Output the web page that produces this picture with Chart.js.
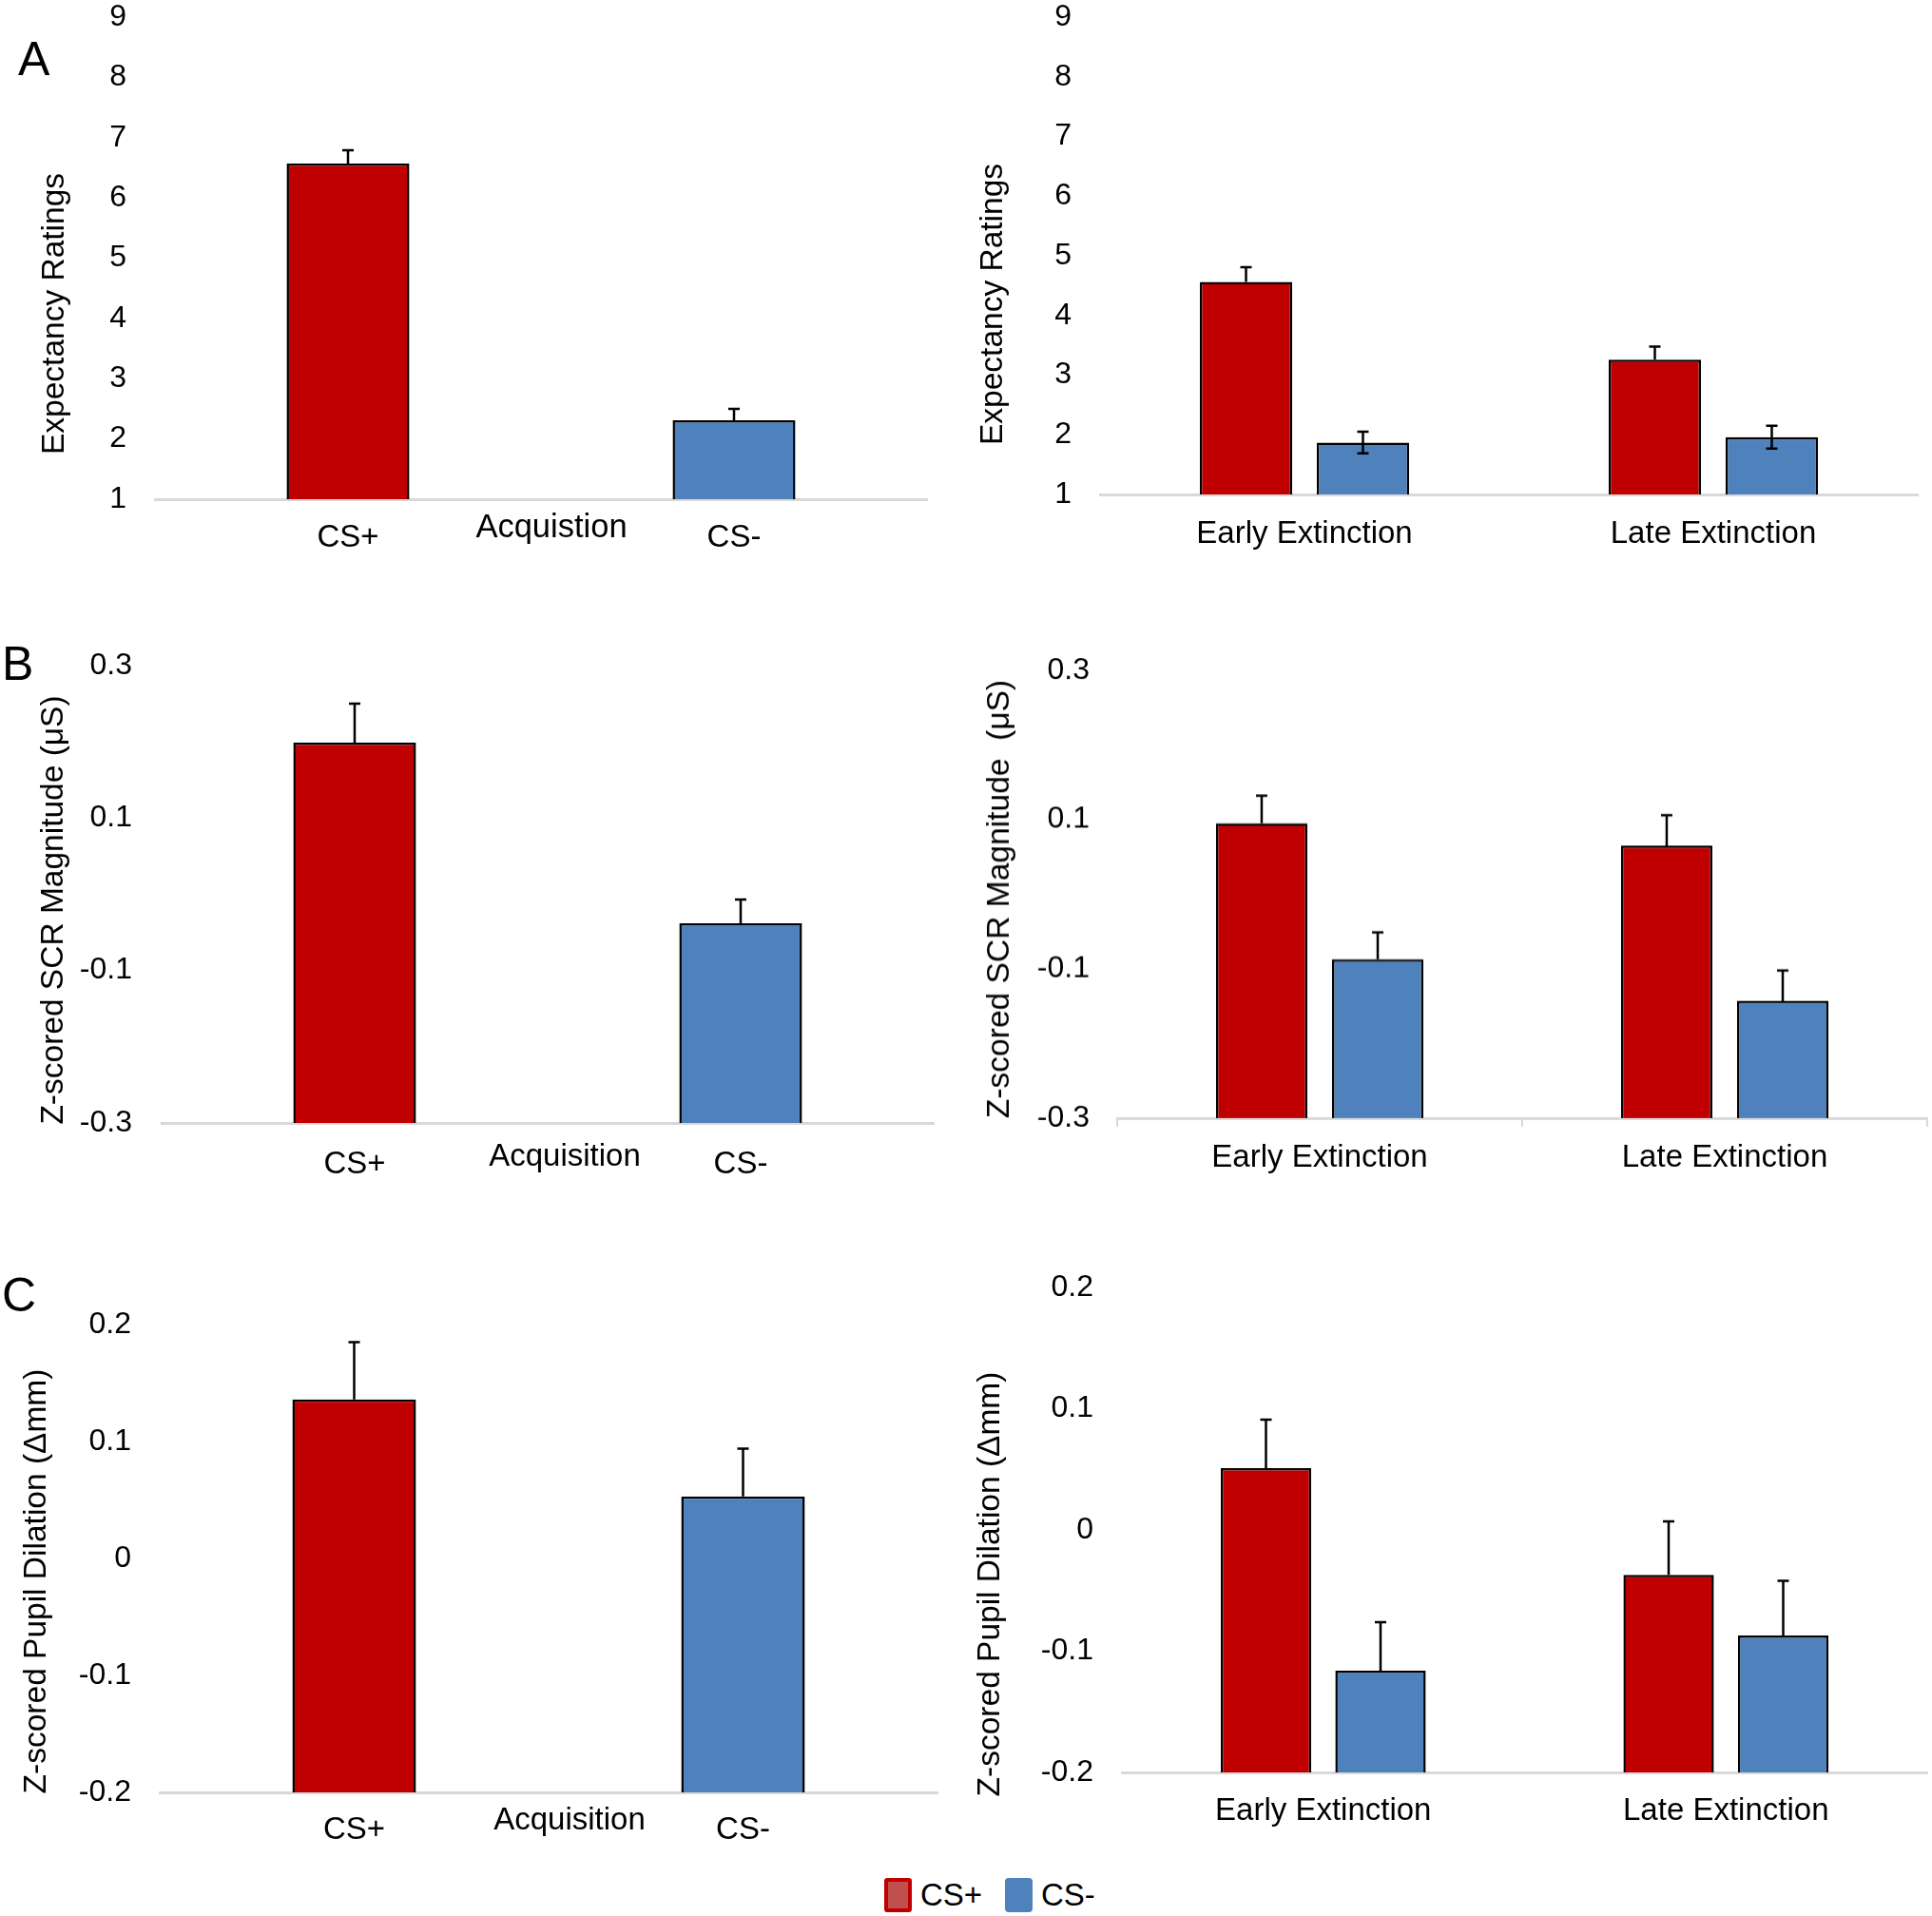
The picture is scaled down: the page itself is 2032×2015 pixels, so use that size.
<!DOCTYPE html>
<html>
<head>
    <meta charset="UTF-8">
    <title>Expectancy, SCR and Pupil Dilation</title>
    <script src="https://cdn.jsdelivr.net/npm/chart.js"></script>
    <style>
        html, body { margin: 0; padding: 0; background: #fff; overflow: hidden; }
        body { width: 2032px; height: 2015px; position: relative; color: #000;
               font-family: "Liberation Sans", Arial, sans-serif; }
        .box { position: absolute; }
        .letter { position: absolute; font-size: 50px; line-height: 50px; }
        .sw { position: absolute; box-sizing: border-box; width: 29px; height: 36px; }
        .lg { position: absolute; font-size: 33px; line-height: 40px; white-space: nowrap; }
    </style>
</head>

<body>
    <div class="letter" style="left:19px; top:37px;">A</div>
    <div class="letter" style="left:2px; top:673px;">B</div>
    <div class="letter" style="left:2px; top:1337px;">C</div>

    <div class="sw" style="left:930px; top:1975px; background:#C0504D; border:4px solid #C00000; border-radius:3px;"></div>
    <div class="lg" style="left:968px; top:1973px;">CS+</div>
    <div class="sw" style="left:1057px; top:1975px; background:#4F81BD; border-radius:4px;"></div>
    <div class="lg" style="left:1095px; top:1973px;">CS-</div>

    <script>
        // categories
        const acqLabels = ['CS+', 'CS-'];
        const extLabels = ['Early Extinction', 'Late Extinction'];

        // y tick values
        const expTicks = [1, 2, 3, 4, 5, 6, 7, 8, 9];
        const scrTicks = [-0.3, -0.1, 0.1, 0.3];
        const pupTicks = [-0.2, -0.1, 0, 0.1, 0.2];

        // A: expectancy ratings
        const expAcq = [6.57, 2.31];
        const expAcqErr = [0.22, 0.19];
        const expExtPlus = [4.56, 3.26];
        const expExtPlusErr = [0.25, 0.22];
        const expExtMinus = [1.87, 1.96];
        const expExtMinusErr = [0.18, 0.19];

        // B: SCR magnitude
        const scrAcq = [0.199, -0.038];
        const scrAcqErr = [0.051, 0.031];
        const scrExtPlus = [0.095, 0.065];
        const scrExtPlusErr = [0.037, 0.041];
        const scrExtMinus = [-0.087, -0.143];
        const scrExtMinusErr = [0.036, 0.041];

        // C: pupil dilation
        const pupAcq = [0.136, 0.053];
        const pupAcqErr = [0.049, 0.041];
        const pupExtPlus = [0.051, -0.037];
        const pupExtPlusErr = [0.040, 0.044];
        const pupExtMinus = [-0.116, -0.087];
        const pupExtMinusErr = [0.040, 0.045];

        const FONT = '"Liberation Sans", Arial, sans-serif';
        const RED = '#C00000';
        const BLUE = '#4F81BD';
        const AXIS = '#d9d9d9';

        // error bars on top of each bar
        const errorBars = {
            id: 'errorBars',
            afterDatasetsDraw(chart) {
                const ctx = chart.ctx;
                const y = chart.scales.y;
                chart.data.datasets.forEach((ds, i) => {
                    const meta = chart.getDatasetMeta(i);
                    meta.data.forEach((bar, j) => {
                        const v = ds.data[j];
                        if (v == null) return;
                        const e = ds.errors[j];
                        const top = y.getPixelForValue(v + e);
                        const bot = y.getPixelForValue(ds.errBoth ? v - e : v);
                        ctx.save();
                        ctx.strokeStyle = '#000';
                        ctx.lineWidth = 2.5;
                        ctx.beginPath();
                        ctx.moveTo(bar.x, top);
                        ctx.lineTo(bar.x, bot);
                        ctx.moveTo(bar.x - 6, top);
                        ctx.lineTo(bar.x + 6, top);
                        if (ds.errBoth) {
                            ctx.moveTo(bar.x - 6, bot);
                            ctx.lineTo(bar.x + 6, bot);
                        }
                        ctx.stroke();
                        ctx.restore();
                    });
                });
            }
        };

        // axis titles placed like the original figure
        const freeText = {
            id: 'freeText',
            afterDraw(chart, args, opts) {
                const ctx = chart.ctx;
                (opts.items || []).forEach(it => {
                    ctx.save();
                    ctx.font = it.size + 'px ' + FONT;
                    ctx.fillStyle = '#000';
                    ctx.textAlign = 'center';
                    ctx.textBaseline = 'middle';
                    ctx.translate(it.x, it.y);
                    if (it.rot) ctx.rotate(-Math.PI / 2);
                    ctx.fillText(it.text, 0, 0);
                    ctx.restore();
                });
            }
        };

        function bar(label, data, errors, color, both) {
            return {
                label: label,
                data: data,
                errors: errors,
                errBoth: !!both,
                backgroundColor: color,
                borderColor: '#000',
                borderWidth: 2.5,
                skipNull: true
            };
        }

        function acqSets(vals, errs) {
            return [
                bar('CS+', [vals[0], null], [errs[0], null], RED),
                bar('CS-', [null, vals[1]], [null, errs[1]], BLUE)
            ];
        }

        function extSets(plus, plusErr, minus, minusErr, minusBoth) {
            return [
                bar('CS+', plus, plusErr, RED),
                bar('CS-', minus, minusErr, BLUE, minusBoth)
            ];
        }

        function makePanel(p) {
            const cl = p.canvasLeft;
            const ct = p.area[1] - 30;
            const cw = p.canvasRight - cl;
            const ch = p.area[3] + 80 - ct;

            const wrap = document.createElement('div');
            wrap.className = 'box';
            wrap.style.left = cl + 'px';
            wrap.style.top = ct + 'px';
            wrap.style.width = cw + 'px';
            wrap.style.height = ch + 'px';
            const cv = document.createElement('canvas');
            cv.width = cw;
            cv.height = ch;
            cv.style.width = cw + 'px';
            cv.style.height = ch + 'px';
            wrap.appendChild(cv);
            document.body.appendChild(wrap);

            p.datasets.forEach(ds => {
                ds.base = p.ticks[0];
                ds.categoryPercentage = p.catPct;
                ds.barPercentage = p.barPct;
            });

            const items = p.texts.map(t => Object.assign({}, t, { x: t.x - cl, y: t.y - ct }));

            new Chart(cv, {
                type: 'bar',
                data: { labels: p.labels, datasets: p.datasets },
                options: {
                    responsive: false,
                    animation: false,
                    layout: { padding: { top: 30, left: 0, right: p.canvasRight - p.area[2], bottom: 0 } },
                    plugins: {
                        legend: { display: false },
                        tooltip: { enabled: false },
                        freeText: { items: items }
                    },
                    scales: {
                        x: {
                            offset: true,
                            grid: p.tickMarks
                                ? { display: true, drawOnChartArea: false, drawTicks: true, tickLength: 9, color: AXIS, lineWidth: 2 }
                                : { display: false, drawTicks: false },
                            border: { display: true, color: AXIS, width: 3 },
                            ticks: {
                                color: '#000',
                                font: { family: FONT, size: 33 },
                                padding: p.labPad,
                                maxRotation: 0,
                                autoSkip: false
                            },
                            afterFit: s => {
                                s.height = 80;
                                s.paddingLeft = 0;
                                s.paddingRight = 0;
                            }
                        },
                        y: {
                            min: p.ticks[0],
                            max: p.ticks[p.ticks.length - 1],
                            grid: { display: false, drawTicks: false },
                            border: { display: false },
                            afterBuildTicks: s => { s.ticks = p.ticks.map(v => ({ value: v })); },
                            ticks: {
                                color: '#000',
                                font: { family: FONT, size: 32 },
                                padding: p.area[0] - p.tickRight,
                                callback: v => String(v)
                            },
                            afterFit: s => {
                                s.width = p.area[0] - cl;
                                s.paddingTop = 0;
                                s.paddingBottom = 0;
                            }
                        }
                    }
                },
                plugins: [errorBars, freeText]
            });
        }

        // A left: acquisition
        makePanel({
            canvasLeft: 0, canvasRight: 985, area: [163, 18, 975, 525], tickRight: 133, labPad: 21,
            ticks: expTicks, labels: acqLabels, datasets: acqSets(expAcq, expAcqErr),
            catPct: 1, barPct: 0.318,
            texts: [
                { text: 'Expectancy Ratings', x: 58, y: 330, rot: true, size: 33.5 },
                { text: 'Acquistion', x: 580, y: 555.5, size: 34.5 }
            ]
        });

        // A right: extinction
        makePanel({
            canvasLeft: 1012, canvasRight: 2032, area: [1157, 18, 2017, 520], tickRight: 1127, labPad: 21.7,
            ticks: expTicks, labels: extLabels,
            datasets: extSets(expExtPlus, expExtPlusErr, expExtMinus, expExtMinusErr, true),
            catPct: 0.572, barPct: 0.79,
            texts: [{ text: 'Expectancy Ratings', x: 1045, y: 320, rot: true, size: 33.5 }]
        });

        // B left: acquisition
        makePanel({
            canvasLeft: 0, canvasRight: 992, area: [170, 700, 982, 1181], tickRight: 139, labPad: 23.7,
            ticks: scrTicks, labels: acqLabels, datasets: acqSets(scrAcq, scrAcqErr),
            catPct: 1, barPct: 0.318,
            texts: [
                { text: 'Z-scored SCR Magnitude (μS)', x: 57, y: 957, rot: true, size: 33.5 },
                { text: 'Acquisition', x: 594, y: 1217, size: 33 }
            ]
        });

        // B right: extinction
        makePanel({
            canvasLeft: 1012, canvasRight: 2032, area: [1175, 705, 2027, 1175.5], tickRight: 1146, labPad: 12.7,
            tickMarks: true,
            ticks: scrTicks, labels: extLabels,
            datasets: extSets(scrExtPlus, scrExtPlusErr, scrExtMinus, scrExtMinusErr, false),
            catPct: 0.573, barPct: 0.787,
            texts: [{ text: 'Z-scored SCR Magnitude  (μS)', x: 1052, y: 945, rot: true, size: 33.5 }]
        });

        // C left: acquisition
        makePanel({
            canvasLeft: 0, canvasRight: 996, area: [168, 1393, 986, 1885], tickRight: 138, labPad: 20.2,
            ticks: pupTicks, labels: acqLabels, datasets: acqSets(pupAcq, pupAcqErr),
            catPct: 1, barPct: 0.318,
            texts: [
                { text: 'Z-scored Pupil Dilation (Δmm)', x: 39, y: 1663, rot: true, size: 33.5 },
                { text: 'Acquisition', x: 599, y: 1915, size: 33 }
            ]
        });

        // C right: extinction
        makePanel({
            canvasLeft: 1012, canvasRight: 2032, area: [1180, 1354, 2027, 1864], tickRight: 1150, labPad: 21.2,
            ticks: pupTicks, labels: extLabels,
            datasets: extSets(pupExtPlus, pupExtPlusErr, pupExtMinus, pupExtMinusErr, false),
            catPct: 0.569, barPct: 0.79,
            texts: [{ text: 'Z-scored Pupil Dilation (Δmm)', x: 1042, y: 1666, rot: true, size: 33.5 }]
        });
    </script>
</body>
</html>
